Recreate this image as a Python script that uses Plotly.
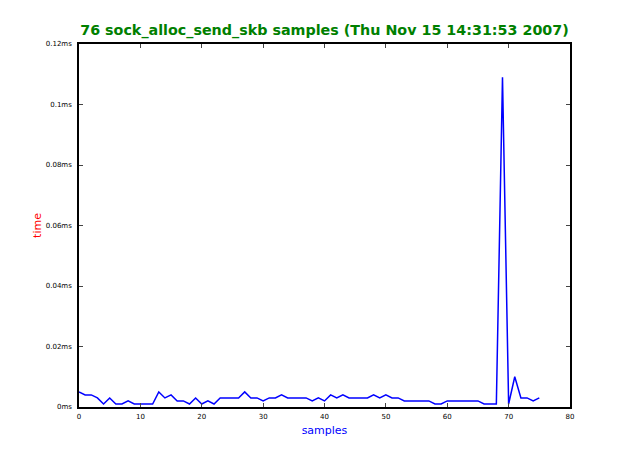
import plotly.graph_objects as go

samples = list(range(76))
time_ms = [0.005, 0.004, 0.004, 0.003, 0.001, 0.003, 0.001, 0.001, 0.002, 0.001,
           0.001, 0.001, 0.001, 0.005, 0.003, 0.004, 0.002, 0.002, 0.001, 0.003,
           0.001, 0.002, 0.001, 0.003, 0.003, 0.003, 0.003, 0.005, 0.003, 0.003,
           0.002, 0.003, 0.003, 0.004, 0.003, 0.003, 0.003, 0.003, 0.002, 0.003,
           0.002, 0.004, 0.003, 0.004, 0.003, 0.003, 0.003, 0.003, 0.004, 0.003,
           0.004, 0.003, 0.003, 0.002, 0.002, 0.002, 0.002, 0.002, 0.001, 0.001,
           0.002, 0.002, 0.002, 0.002, 0.002, 0.002, 0.001, 0.001, 0.001, 0.109,
           0.001, 0.010, 0.003, 0.003, 0.002, 0.003]
y_ticks = [0, 0.02, 0.04, 0.06, 0.08, 0.1, 0.12]
y_tick_labels = ["0ms", "0.02ms", "0.04ms", "0.06ms", "0.08ms", "0.1ms", "0.12ms"]
x_ticks = [0, 10, 20, 30, 40, 50, 60, 70, 80]

# page body has an 8px default margin; compensate
W, H = 625, 445
fig = go.Figure(go.Scatter(x=samples, y=time_ms, mode="lines",
                           line=dict(color="#0000ff", width=1.5)))

fig.update_layout(
    width=W, height=H,
    margin=dict(l=71, r=63, t=36, b=46),
    paper_bgcolor="white", plot_bgcolor="white",
    font=dict(family="DejaVu Sans", color="black"),
    showlegend=False,
    title=dict(text="<b>76 sock_alloc_send_skb samples (Thu Nov 15 14:31:53 2007)</b>",
               x=(71 + 562) / 2 / W, xanchor="center", y=1 - 22 / H, yanchor="middle",
               font=dict(size=14.3, color="#008000", family="DejaVu Sans")),
)
fig.update_xaxes(range=[0, 80], tickvals=x_ticks, ticks="inside", ticklen=4,
                 tickfont=dict(size=7), showgrid=False, zeroline=False,
                 showline=True, linecolor="black", linewidth=1.5, mirror="allticks",
                 ticklabelstandoff=2,
                 title=dict(text="samples", font=dict(size=11, color="#0000ff"), standoff=6))
fig.update_yaxes(range=[0, 0.12], tickvals=y_ticks, ticktext=y_tick_labels,
                 ticks="inside", ticklen=4, tickfont=dict(size=7), showgrid=False,
                 zeroline=False, showline=True, linecolor="black", linewidth=1.5,
                 mirror="allticks", ticklabelstandoff=4,
                 title=dict(text="time", font=dict(size=11, color="#ff0000"), standoff=2))

fig.write_html("out.html")
